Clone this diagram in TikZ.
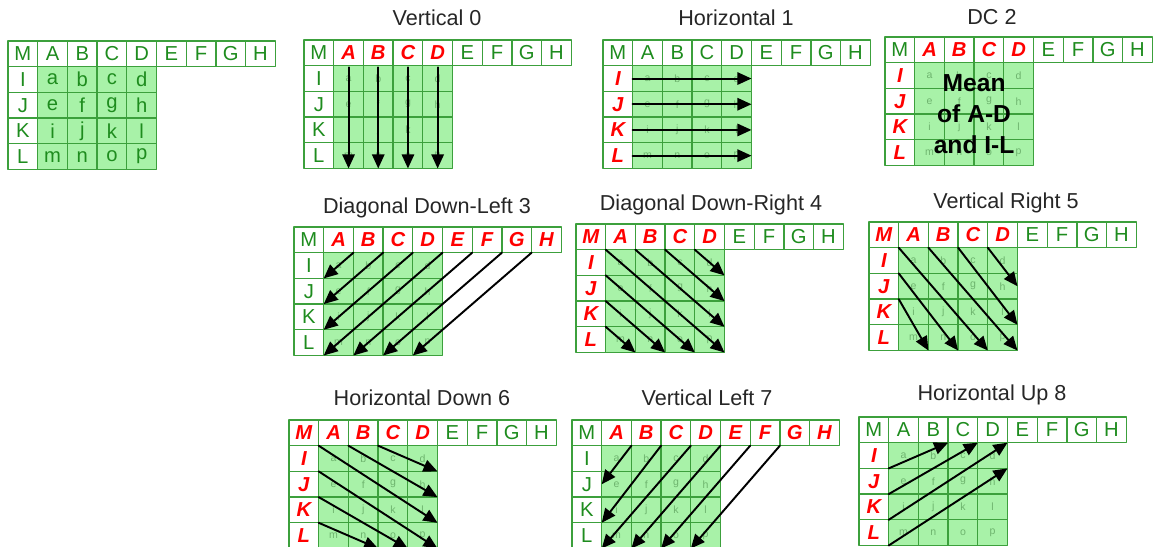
\documentclass[tikz,border=0pt]{standalone}
\usepackage{fontspec}
\setmainfont{Liberation Sans}
\usetikzlibrary{arrows.meta}
\definecolor{vien}{RGB}{60,160,60}
\definecolor{nen}{RGB}{168,242,168}
\definecolor{xanh}{RGB}{30,140,30}
\definecolor{mo}{RGB}{110,180,110}
\begin{document}
\begin{tikzpicture}[x=0.02cm,y=-0.02cm,line cap=round,line join=round]
\def\w{29.7}
\def\h{25.7}
\tikzset{o/.style={draw=vien,line width=0.7pt,minimum width=0.594cm,minimum height=0.514cm,inner sep=0pt,outer sep=0pt,fill=white},
  chuxanh/.style={text=xanh,font=\fontsize{11.5}{13}\selectfont},
  chudo/.style={text=red,font=\fontsize{11.5}{13}\selectfont\bfseries\itshape},
  chulon/.style={text=xanh,font=\fontsize{11.5}{13}\selectfont},
  chunho/.style={text=mo,font=\fontsize{6}{7}\selectfont},
  tieude/.style={text=black!85,font=\fontsize{12.3}{14}\selectfont},
  mui/.style={-{Triangle[length=8pt,width=7pt]},line width=1.1pt,black},
  pics/luoi/.style n args={4}{code={
    \foreach \l [count=\k from 0] in {M,A,B,C,D,E,F,G,H}{
      \pgfmathtruncatemacro\dd{(\k>=#1)*(\k<=#2)}
      \ifnum\dd=1 \node[o,chudo] (-\l) at ({(\k+.5)*\w},\h/2) {\l};
      \else \node[o,chuxanh] (-\l) at ({(\k+.5)*\w},\h/2) {\l}; \fi}
    \foreach \l [count=\r] in {I,J,K,L}{
      \ifnum#3=1 \node[o,chudo] (-\l) at (\w/2,{(\r+.5)*\h}) {\l};
      \else \node[o,chuxanh] (-\l) at (\w/2,{(\r+.5)*\h}) {\l}; \fi}
    \foreach \hang [count=\r] in {{a,b,c,d},{e,f,g,h},{i,j,k,l},{m,n,o,p}}{
      \foreach \l [count=\c] in \hang {\node[o,fill=nen,#4] (-\l) at ({(\c+.5)*\w},{(\r+.5)*\h}) {\l};}}
  }}}
\path[use as bounding box,clip] (0,0) rectangle (1154,547);
% khung
\pic (p) at (8,41) {luoi={1}{0}{0}{chulon}};
\pic (p0) at (304,40) {luoi={1}{4}{0}{chunho}};
\pic (p1) at (603,40) {luoi={1}{0}{1}{chunho}};
\pic (p2) at (885,37) {luoi={1}{4}{1}{chunho}};
\pic (p3) at (294,227) {luoi={1}{8}{0}{chunho}};
\pic (p4) at (576,224) {luoi={0}{4}{1}{chunho}};
\pic (p5) at (869,222) {luoi={0}{4}{1}{chunho}};
\pic (p6) at (289,420) {luoi={0}{4}{1}{chunho}};
\pic (p7) at (572,420) {luoi={1}{8}{0}{chunho}};
\pic (p8) at (859,417) {luoi={1}{0}{1}{chunho}};
% tieu de
\node[tieude] (t0) at (437,18) {Vertical 0};
\node[tieude] (t1) at (736,18) {Horizontal 1};
\node[tieude] (t2) at (992,17) {DC 2};
\node[tieude] (t3) at (427,208) {Diagonal Down-Left 3};
\node[tieude] (t4) at (711,205) {Diagonal Down-Right 4};
\node[tieude] (t5) at (1006,203) {Vertical Right 5};
\node[tieude] (t6) at (422,398) {Horizontal Down 6};
\node[tieude] (t7) at (707,398) {Vertical Left 7};
\node[tieude] (t8) at (992,395) {Horizontal Up 8};
% mui ten
\foreach \c/\e in {A/m,B/n,C/o,D/p} \draw[mui] ([yshift=-1pt]p0-\c.south) -- (p0-\e.south);
\foreach \c/\e in {I/d,J/h,K/l,L/p} \draw[mui] (p1-\c.east) -- (p1-\e.east);
\node[font=\fontsize{14}{17.6}\selectfont\bfseries,align=center] (tb) at (p2-f.south east) {Mean\\of A-D\\and I-L};
\foreach \c/\e in {A/a,B/e,C/i,D/m,E/n,F/o,G/p} \draw[mui] (p3-\c.south east) -- (p3-\e.south west);
\foreach \c/\e in {a/p,b/l,c/h,d/d,e/o,i/n,m/m} \draw[mui] (p4-\c.north west) -- (p4-\e.south east);
\foreach \c/\e in {d/h.east,c/l.south east,b/p.south east,a/o.south east,e/n.south east,i/m.south east} \draw[mui] (p5-\c.north west) -- (p5-\e);
\foreach \c/\e in {c/d,b/h,a/l,e/p,i/o,m/n} \draw[mui] (p6-\c.north west) -- (p6-\e.south east);
\foreach \c/\e in {A/e.west,B/i.south west,C/m.south west,D/n.south west,E/o.south west,F/p.south west} \draw[mui] (p7-\c.south east) -- (p7-\e);
\foreach \c/\e in {e/b,i/c,m/d} \draw[mui] (p8-\c.north west) -- (p8-\e.north east);
\draw[mui] (p8-m.south west) -- (p8-d.south east);
\end{tikzpicture}
\end{document}
